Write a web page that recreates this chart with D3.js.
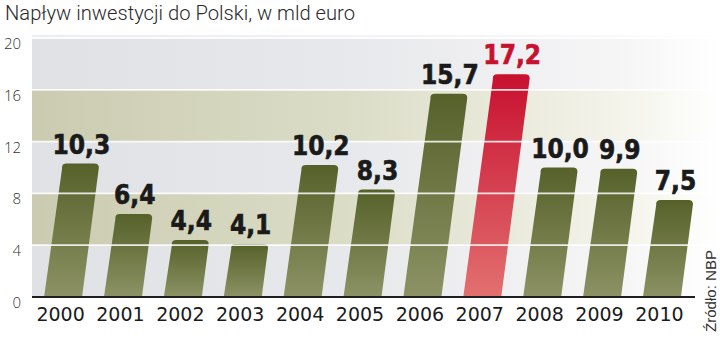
<!DOCTYPE html>
<html><head><meta charset="utf-8">
<script src="https://cdn.jsdelivr.net/npm/d3@7"></script>
<style>
html,body{margin:0;padding:0;background:#fff;}
svg{display:block;}
</style></head>
<body>
<svg id="chart" width="720" height="339"></svg>
<script>
const title = "Napływ inwestycji do Polski, w mld euro";
const source = "Źródło: NBP";
const years = ["2000","2001","2002","2003","2004","2005","2006","2007","2008","2009","2010"];
const values = [10.3, 6.4, 4.4, 4.1, 10.2, 8.3, 15.7, 17.2, 10.0, 9.9, 7.5];
const highlightYear = "2007";
const yTicks = [0, 4, 8, 12, 16, 20];

const svg = d3.select("#chart");
const plotLeft = 32, plotRight = 720, axisRight = 695;

const x = d3.scaleBand().domain(years).range([33, 692]).paddingInner(0.366).paddingOuter(0.185);
const y = d3.scaleLinear().domain([0, 20]).range([297, 38]);

const defs = svg.append("defs");
function hgrad(id, c0, c1, c2, c3) {
  const g = defs.append("linearGradient").attr("id", id).attr("x1", 0).attr("x2", 1).attr("y1", 0).attr("y2", 0);
  g.append("stop").attr("offset", "0%").attr("stop-color", c0);
  g.append("stop").attr("offset", "45%").attr("stop-color", c1);
  g.append("stop").attr("offset", "85%").attr("stop-color", c2);
  g.append("stop").attr("offset", "100%").attr("stop-color", c3);
}
hgrad("gGray", "#dfe1e5", "#e7e8eb", "#f5f5f6", "#ffffff");
hgrad("gBeige", "#cacbb0", "#dbdcc6", "#f3f3ea", "#ffffff");
function vgrad(id, top, bottom) {
  const g = defs.append("linearGradient").attr("id", id).attr("x1", 0).attr("x2", 0).attr("y1", 0).attr("y2", 1);
  g.append("stop").attr("offset", "0%").attr("stop-color", top);
  g.append("stop").attr("offset", "100%").attr("stop-color", bottom);
}
vgrad("gBar", "#56612a", "#8c9264");
vgrad("gRed", "#c8102f", "#e27070");

// background bands
const bands = d3.pairs(yTicks).map((p, i) => ({lo: p[0], hi: p[1], beige: i % 2 === 1}));
svg.append("g").selectAll("rect").data(bands).join("rect")
  .attr("x", plotLeft).attr("width", plotRight - plotLeft)
  .attr("y", d => y(d.hi)).attr("height", d => y(d.lo) - y(d.hi))
  .attr("fill", d => d.beige ? "url(#gBeige)" : "url(#gGray)");
svg.append("rect").attr("x", plotLeft).attr("width", plotRight - plotLeft)
  .attr("y", y(20) - 3).attr("height", 3).attr("fill", "url(#gGray)").attr("opacity", 0.6);

// bars
const slant = 0.13, r = 5;
function barPath(d) {
  const x0 = x(d.year), w = x.bandwidth();
  const yb = y(0), yt = y(d.value);
  const s = slant * (yb - yt);
  const ux = slant / Math.sqrt(1 + slant * slant), uy = 1 / Math.sqrt(1 + slant * slant);
  const tl = [x0 + s, yt], tr = [x0 + w + s, yt];
  const p = d3.path();
  p.moveTo(x0, yb);
  p.lineTo(x0 + w, yb);
  p.lineTo(tr[0] - ux * r, tr[1] + uy * r);
  p.quadraticCurveTo(tr[0], tr[1], tr[0] - r, tr[1]);
  p.lineTo(tl[0] + r, tl[1]);
  p.quadraticCurveTo(tl[0], tl[1], tl[0] + ux * r, tl[1] + uy * r);
  p.closePath();
  return p.toString();
}
const data = years.map((yr, i) => ({year: yr, value: values[i]}));
svg.append("g").selectAll("path").data(data).join("path")
  .attr("d", barPath)
  .attr("fill", d => d.year === highlightYear ? "url(#gRed)" : "url(#gBar)");

// gridlines on top
svg.append("g").selectAll("line").data(yTicks.filter(t => t > 0)).join("line")
  .attr("x1", plotLeft).attr("x2", plotRight)
  .attr("y1", d => y(d)).attr("y2", d => y(d))
  .attr("stroke", "#ffffff").attr("stroke-opacity", 0.85).attr("stroke-width", 1.8);

// baseline
svg.append("line").attr("x1", plotLeft).attr("x2", axisRight)
  .attr("y1", y(0)).attr("y2", y(0)).attr("stroke", "#1e1e1e").attr("stroke-width", 2);

// y labels
svg.append("g").selectAll("text").data(yTicks).join("text")
  .attr("x", 21).attr("y", d => y(d) + 11)
  .attr("text-anchor", "end")
  .attr("font-family", "'Open Sans', sans-serif").attr("font-weight", 300)
  .attr("font-size", 15).attr("fill", "#333")
  .text(d => d);

// year labels
svg.append("g").selectAll("text").data(years).join("text")
  .attr("x", d => x(d) + x.bandwidth() / 2 - 2.5).attr("y", 321)
  .attr("text-anchor", "middle")
  .attr("font-family", "'DejaVu Sans', sans-serif")
  .attr("font-size", 19).attr("fill", "#1a1a1a")
  .text(d => d);

// value labels
svg.append("g").selectAll("text").data(data).join("text")
  .attr("x", d => x(d.year) + slant * (y(0) - y(d.value)) + x.bandwidth() / 2 + 1)
  .attr("y", d => y(d.value) - 10)
  .attr("text-anchor", "middle")
  .attr("font-family", "'Liberation Sans Narrow', 'DejaVu Sans Condensed', sans-serif")
  .attr("font-weight", 700).attr("font-size", 26)
  .attr("fill", d => d.year === highlightYear ? "#c8102f" : "#1a1a1a")
  .attr("stroke", d => d.year === highlightYear ? "#c8102f" : "#1a1a1a").attr("stroke-width", 0.6)
  .text(d => d.value.toFixed(1).replace(".", ","));

// title
svg.append("text").attr("x", 5).attr("y", 20)
  .attr("font-family", "Roboto, sans-serif").attr("font-weight", 300)
  .attr("font-size", 21).attr("fill", "#2a2a2a")
  .attr("textLength", 350).attr("lengthAdjust", "spacingAndGlyphs")
  .text(title);

// source
svg.append("text").attr("transform", "translate(716,332) rotate(-90)")
  .attr("font-family", "'Liberation Sans', Arial, sans-serif").attr("font-weight", 400)
  .attr("font-size", 14.5).attr("fill", "#333")
  .attr("textLength", 82).attr("lengthAdjust", "spacingAndGlyphs")
  .text(source);
</script>
</body></html>
